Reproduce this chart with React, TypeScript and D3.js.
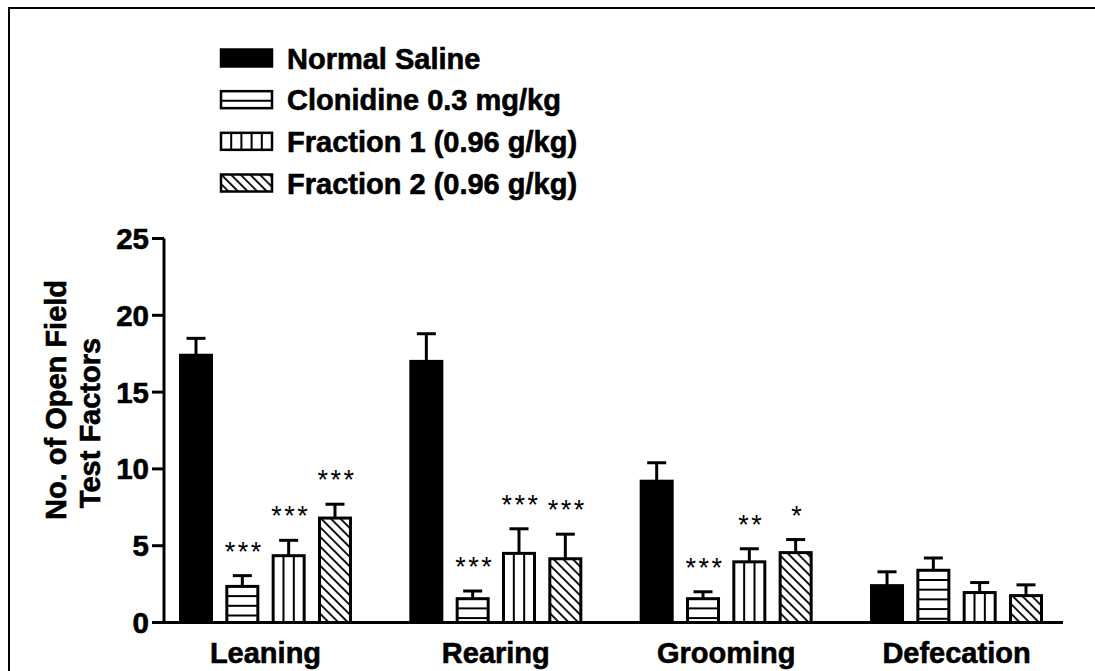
import React from 'react';
import * as d3 from 'd3';

// categories and groups
const categories = ['Leaning', 'Rearing', 'Grooming', 'Defecation'];
const series = [
  'Normal Saline',
  'Clonidine 0.3 mg/kg',
  'Fraction 1 (0.96 g/kg)',
  'Fraction 2 (0.96 g/kg)',
];

// means
const salineMean = [17.4, 17.0, 9.2, 2.4];
const clonidineMean = [2.35, 1.55, 1.55, 3.4];
const fraction1Mean = [4.35, 4.5, 3.95, 1.95];
const fraction2Mean = [6.8, 4.15, 4.55, 1.75];

// upper error (SEM)
const salineErr = [1.1, 1.8, 1.2, 0.9];
const clonidineErr = [0.7, 0.5, 0.45, 0.8];
const fraction1Err = [1.0, 1.6, 0.85, 0.65];
const fraction2Err = [0.9, 1.6, 0.85, 0.7];

// significance marks
const salineSig = ['', '', '', ''];
const clonidineSig = ['***', '***', '***', ''];
const fraction1Sig = ['***', '***', '**', ''];
const fraction2Sig = ['***', '***', '*', ''];

const yTicks = [0, 5, 10, 15, 20, 25];

const means = [salineMean, clonidineMean, fraction1Mean, fraction2Mean];
const errs = [salineErr, clonidineErr, fraction1Err, fraction2Err];
const sigs = [salineSig, clonidineSig, fraction1Sig, fraction2Sig];
const fills = ['solid', 'hlines', 'vlines', 'diag'];

const FONT = '"Liberation Sans", Arial, Helvetica, sans-serif';
// bold text in the original is a bit heavier than Liberation bold
const heavy = { fontWeight: 'bold', stroke: '#000', strokeWidth: 0.6 };

// draws the inside of a bar / swatch according to its fill style
function Hatch({ kind, x, y, w, h }) {
  if (kind === 'hlines') {
    const ys = d3.range(y + 9.7, y + h - 1, 9.7);
    return (
      <g>
        {ys.map((yy, i) => (
          <line key={i} x1={x} x2={x + w} y1={yy} y2={yy} stroke="#000" strokeWidth={2} />
        ))}
      </g>
    );
  }
  if (kind === 'vlines') {
    const n = Math.max(2, Math.round(w / 10.5));
    const step = w / n;
    const xs = d3.range(1, n).map((k) => x + k * step);
    return (
      <g>
        {xs.map((xx, i) => (
          <line key={i} x1={xx} x2={xx} y1={y} y2={y + h} stroke="#000" strokeWidth={2} />
        ))}
      </g>
    );
  }
  return null;
}

export default function App() {
  const x0 = d3.scaleBand().domain(categories).range([179, 1043]).paddingInner(0.249);
  const x1 = d3.scaleBand().domain(series).range([0, x0.bandwidth()]).paddingInner(0.266);
  const y = d3.scaleLinear().domain([0, 25]).range([622.5, 238.5]);
  const legendY = d3.scalePoint().domain(series).range([58, 183]);

  const axisLeft = 164;
  const axisRight = 1063;
  const sw = 3;

  return (
    <svg
      width={1095}
      height={671}
      style={{ position: 'absolute', left: 0, top: 0, background: '#fff' }}
      fontFamily={FONT}
    >
      <defs>
        <pattern
          id="diag"
          patternUnits="userSpaceOnUse"
          width={10}
          height={6.8}
          patternTransform="rotate(45)"
        >
          <rect width={10} height={6.8} fill="#fff" />
          <line x1={0} x2={10} y1={1} y2={1} stroke="#000" strokeWidth={1.8} />
        </pattern>
      </defs>

      {/* outer frame */}
      <path d="M9,700 V8 H1100" fill="none" stroke="#000" strokeWidth={2} />

      {/* legend */}
      {series.map((s, i) => {
        const cy = legendY(s);
        const lx = 221;
        const lw = 51;
        const lh = 17;
        const top = cy - lh / 2;
        return (
          <g key={s}>
            <rect
              x={lx}
              y={top}
              width={lw}
              height={lh}
              fill={fills[i] === 'solid' ? '#000' : fills[i] === 'diag' ? 'url(#diag)' : '#fff'}
            />
            <Hatch kind={fills[i]} x={lx} y={top} w={lw} h={lh} />
            <rect x={lx} y={top} width={lw} height={lh} fill="none" stroke="#000" strokeWidth={2.5} />
            <text x={287} y={cy + 10.5} fontSize={29} {...heavy}>
              {s}
            </text>
          </g>
        );
      })}

      {/* bars */}
      {categories.map((c, ci) => (
        <g key={c} transform={`translate(${x0(c)},0)`}>
          {series.map((s, si) => {
            const v = means[si][ci];
            const e = errs[si][ci];
            const bx = x1(s) + sw / 2;
            const bw = x1.bandwidth() - sw;
            const top = y(v);
            const bh = y(0) - top;
            const cx = x1(s) + x1.bandwidth() / 2;
            const kind = fills[si];
            return (
              <g key={s}>
                <line x1={cx} x2={cx} y1={top} y2={y(v + e)} stroke="#000" strokeWidth={3} />
                <line x1={cx - 9.5} x2={cx + 9.5} y1={y(v + e)} y2={y(v + e)} stroke="#000" strokeWidth={3} />
                <rect
                  x={bx}
                  y={top}
                  width={bw}
                  height={bh}
                  fill={kind === 'solid' ? '#000' : kind === 'diag' ? 'url(#diag)' : '#fff'}
                />
                <Hatch kind={kind} x={bx} y={top} w={bw} h={bh} />
                <rect x={bx} y={top} width={bw} height={bh} fill="none" stroke="#000" strokeWidth={sw} />
                {sigs[si][ci] && (
                  <text
                    x={cx + 2}
                    y={y(v + e) - 15}
                    textAnchor="middle"
                    fontSize={27}
                    letterSpacing={2.5}
                  >
                    {sigs[si][ci]}
                  </text>
                )}
              </g>
            );
          })}
        </g>
      ))}

      {/* axes */}
      <line x1={axisLeft} x2={axisRight} y1={y(0)} y2={y(0)} stroke="#000" strokeWidth={3} />
      <line x1={axisLeft} x2={axisLeft} y1={y(0) + 1.5} y2={y(25)} stroke="#000" strokeWidth={3} />
      {yTicks.map((t) => (
        <g key={t}>
          <line x1={axisLeft - 12} x2={axisLeft} y1={y(t)} y2={y(t)} stroke="#000" strokeWidth={3} />
          <text x={149} y={y(t) + 10.5} textAnchor="end" fontSize={29.5} {...heavy}>
            {t}
          </text>
        </g>
      ))}

      {/* category labels */}
      {categories.map((c) => (
        <text
          key={c}
          x={x0(c) + x0.bandwidth() / 2}
          y={663}
          textAnchor="middle"
          fontSize={29}
          {...heavy}
        >
          {c}
        </text>
      ))}

      {/* y title */}
      <text transform="translate(66,400) rotate(-90)" textAnchor="middle" fontSize={29} {...heavy}>
        No. of Open Field
      </text>
      <text transform="translate(100,423) rotate(-90)" textAnchor="middle" fontSize={29} {...heavy}>
        Test Factors
      </text>
    </svg>
  );
}
